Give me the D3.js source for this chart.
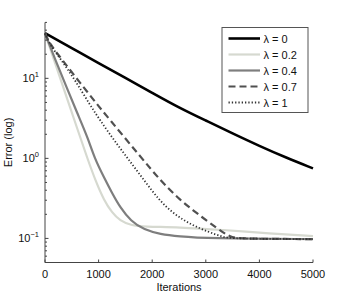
<!DOCTYPE html>
<html>
<head>
<meta charset="utf-8">
<script src="https://cdn.jsdelivr.net/npm/d3@7"></script>
<style>
  body { margin: 0; background: #fff; }
  svg { font-family: "Liberation Sans", Arial, sans-serif; }
</style>
</head>
<body>
<svg id="chart" width="346" height="296"></svg>
<script>
// values
var xTicks = [0, 1000, 2000, 3000, 4000, 5000]
var yTicks = [0.1, 1, 10]
var yTickExp = ["\u22121", "0", "1"]

var iters0 = [0, 500, 1000, 1500, 2000, 2500, 3000, 3500, 4000, 4500, 5000]
var err0   = [36.8, 23.9, 15.5, 10.1, 6.6, 4.3, 2.97, 2.05, 1.43, 1.02, 0.75]

var iters02 = [0, 200, 400, 600, 790, 950, 1100, 1250, 1400, 1600, 1850, 2500, 3300, 4200, 5000]
var err02   = [36.5, 14.7, 5.9, 2.38, 1.0, 0.51, 0.3, 0.21, 0.166, 0.146, 0.14, 0.138, 0.128, 0.115, 0.107]

var iters04 = [0, 200, 400, 600, 800, 925, 1100, 1250, 1400, 1600, 1850, 2150, 2500, 3000, 5000]
var err04   = [36.5, 16.5, 7.8, 3.7, 1.8, 1.0, 0.58, 0.37, 0.245, 0.165, 0.128, 0.113, 0.106, 0.1, 0.098]

var iters07 = [0, 93, 280, 802, 1213, 1772, 2146, 2519, 2854, 3228, 3451, 3638, 5000]
var err07   = [36.5, 26.8, 18.5, 6.55, 3.01, 1.07, 0.535, 0.301, 0.201, 0.131, 0.104, 0.099, 0.098]

var iters1 = [0, 93, 280, 560, 840, 1026, 1287, 1567, 1847, 2127, 2407, 2737, 3047, 3297, 3489, 5000]
var err1   = [36.5, 26.1, 17.9, 9.52, 4.64, 3.01, 1.69, 0.953, 0.535, 0.301, 0.201, 0.147, 0.121, 0.105, 0.099, 0.098]

var labels = ["\u03bb = 0", "\u03bb = 0.2", "\u03bb = 0.4", "\u03bb = 0.7", "\u03bb = 1"]

var series = [
    {name: labels[0], x: iters0,  y: err0,  color: "#000000", width: 2.6, dash: null},
    {name: labels[1], x: iters02, y: err02, color: "#d6d9d0", width: 2.2, dash: null},
    {name: labels[2], x: iters04, y: err04, color: "#7e7e7e", width: 2.2, dash: null},
    {name: labels[3], x: iters07, y: err07, color: "#505050", width: 2.2, dash: "7,4"},
    {name: labels[4], x: iters1,  y: err1,  color: "#333333", width: 1.8, dash: "1.3,2"}
]

var dimensions = {
    left: 45,
    right: 313,
    top: 22.4,
    bottom: 262.5
}

var svg = d3.select("#chart")

var xScale = d3.scaleLinear()
               .domain([0, 5000])
               .range([dimensions.left, dimensions.right])

var yScale = d3.scaleLog()
               .domain([0.05, 50])
               .range([dimensions.bottom, dimensions.top])

var axisColor = "#444"

// curves
var line = d3.line()
             .x(d => xScale(d[0]))
             .y(d => yScale(d[1]))
             .curve(d3.curveBasis)

svg.append("g")
   .selectAll("path")
   .data(series)
   .enter()
   .append("path")
   .attr("d", s => line(s.x.map((v, i) => [v, s.y[i]])))
   .attr("fill", "none")
   .attr("stroke", s => s.color)
   .attr("stroke-width", s => s.width)
   .attr("stroke-dasharray", s => s.dash)

// x axis
var xAxis = svg.append("g")
xAxis.append("line")
     .attr("x1", dimensions.left).attr("x2", dimensions.right)
     .attr("y1", dimensions.bottom).attr("y2", dimensions.bottom)
     .attr("stroke", axisColor).attr("stroke-width", 1)
xAxis.selectAll(".xt")
     .data(xTicks)
     .enter()
     .append("line")
     .attr("x1", d => xScale(d)).attr("x2", d => xScale(d))
     .attr("y1", dimensions.bottom).attr("y2", dimensions.bottom - 3)
     .attr("stroke", axisColor)
xAxis.selectAll("text")
     .data(xTicks)
     .enter()
     .append("text")
     .attr("x", d => xScale(d))
     .attr("y", 277.5)
     .attr("text-anchor", "middle")
     .attr("font-size", 11)
     .attr("fill", "#111")
     .text(d => d)
svg.append("text")
   .attr("x", xScale(2500))
   .attr("y", 291)
   .attr("text-anchor", "middle")
   .attr("font-size", 11)
   .attr("fill", "#111")
   .text("Iterations")

// y axis
var yAxis = svg.append("g")
yAxis.append("line")
     .attr("x1", dimensions.left).attr("x2", dimensions.left)
     .attr("y1", dimensions.top).attr("y2", dimensions.bottom)
     .attr("stroke", axisColor).attr("stroke-width", 1)

var minorTicks = yScale.ticks().filter(t => yTicks.indexOf(t) < 0)
yAxis.selectAll(".ym")
     .data(minorTicks)
     .enter()
     .append("line")
     .attr("x1", dimensions.left).attr("x2", dimensions.left + 2)
     .attr("y1", d => yScale(d)).attr("y2", d => yScale(d))
     .attr("stroke", axisColor)
yAxis.selectAll(".yM")
     .data(yTicks)
     .enter()
     .append("line")
     .attr("x1", dimensions.left).attr("x2", dimensions.left + 3.5)
     .attr("y1", d => yScale(d)).attr("y2", d => yScale(d))
     .attr("stroke", axisColor)

var yLabels = yAxis.selectAll("text")
     .data(yTicks)
     .enter()
     .append("text")
     .attr("x", 39)
     .attr("y", d => yScale(d) + 4)
     .attr("text-anchor", "end")
     .attr("font-size", 11)
     .attr("fill", "#111")
yLabels.append("tspan").text("10")
yLabels.append("tspan")
       .attr("dy", -5)
       .attr("font-size", 7.5)
       .text((d, i) => yTickExp[i])

svg.append("text")
   .attr("transform", "translate(12," + ((dimensions.top + dimensions.bottom) / 2) + ") rotate(-90)")
   .attr("text-anchor", "middle")
   .attr("font-size", 11)
   .attr("fill", "#111")
   .text("Error (log)")

// legend
var legend = svg.append("g")
legend.append("rect")
      .attr("x", 222).attr("y", 27.5)
      .attr("width", 86).attr("height", 85)
      .attr("fill", "#fff")
      .attr("stroke", "#555")
      .attr("stroke-width", 1)
var rows = legend.selectAll(".row")
      .data(series)
      .enter()
      .append("g")
      .attr("transform", (d, i) => "translate(0," + (38.5 + i * 16) + ")")
rows.append("line")
    .attr("x1", 228.5).attr("x2", 260)
    .attr("y1", 0).attr("y2", 0)
    .attr("stroke", s => s.color)
    .attr("stroke-width", s => s.width)
    .attr("stroke-dasharray", s => s.dash)
rows.append("text")
    .attr("x", 263.5)
    .attr("y", 4)
    .attr("font-size", 11)
    .attr("fill", "#111")
    .text(s => s.name)
</script>
</body>
</html>
